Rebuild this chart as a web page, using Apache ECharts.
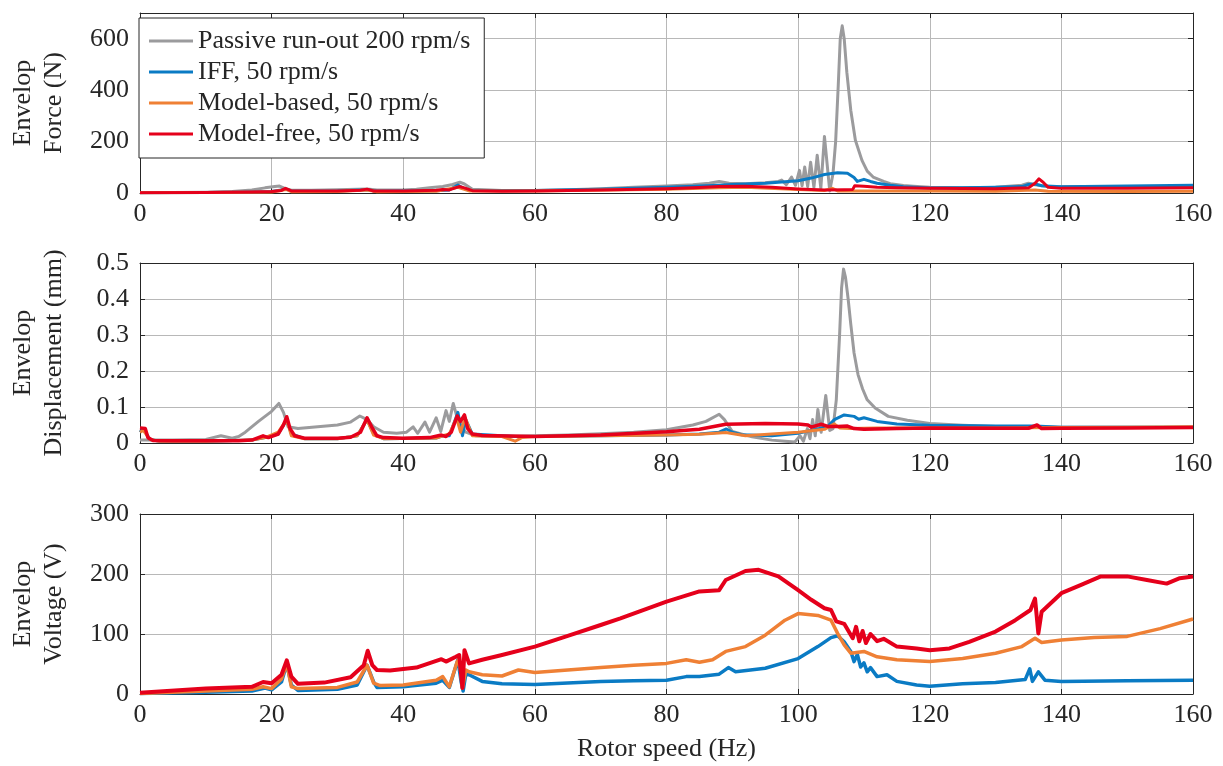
<!DOCTYPE html>
<html>
<head>
<meta charset="utf-8">
<script src="https://cdn.jsdelivr.net/npm/echarts@6/dist/echarts.min.js"></script>
<style>
html,body{margin:0;padding:0;background:#fff;}
#c{width:1223px;height:766px;}
</style>
</head>
<body>
<div id="c"></div>
<script>
// ---------- Data ----------
const seriesNames = ['Passive run-out 200 rpm/s', 'IFF, 50 rpm/s', 'Model-based, 50 rpm/s', 'Model-free, 50 rpm/s'];
const xTicks = [0, 20, 40, 60, 80, 100, 120, 140, 160];

// Envelop force (N) : [rotor speed Hz, value]
const forcePassive = [[0,1],[5,2],[10,3],[14,6],[17,12],[19,20],[20.5,25],[21.2,27],[22,18],[23,11],[26,11],[30,13],[33,15],[34.5,16],[36,12],[40,12],[42,15],[44,20],[46,25],[47.5,33],[48.6,42],[49.3,35],[50.5,15],[55,10],[60,10],[65,13],[70,17],[75,22],[80,27],[84,32],[86.5,38],[88,45],[89.5,38],[92,36],[95,40],[97,45],[97.5,50],[98.2,32],[99,62],[99.6,30],[100.2,88],[100.6,28],[101,101],[101.45,25],[101.9,120],[102.4,22],[102.9,147],[103.45,18],[104,220],[104.8,8],[105.3,75],[105.7,200],[106.1,420],[106.4,600],[106.7,650],[107.0,600],[107.4,470],[108,322],[108.7,205],[109.7,127],[110.5,85],[111.4,62],[113,45],[114,36],[116,29],[117.5,26],[120,22],[125,20],[130,22],[134,30],[135,38],[136,32],[138,25],[145,24],[150,24],[155,25],[160,25]];
const forceIFF = [[0,1],[10,2],[17,4],[20,6],[22.2,15],[23,7],[30,8],[34.5,13],[36,7],[45,9],[47,12],[48.3,31],[49,20],[50,10],[60,10],[70,15],[80,22],[85,27],[88,30],[90,33],[95,38],[100,48],[102,58],[104,72],[106,79],[107.5,77],[108.5,60],[109,45],[110,53],[111,45],[112,38],[114,30],[116,24],[120,19],[125,20],[130,22],[134,25],[135,33],[136,35],[137,28],[140,24],[150,27],[160,30]];
const forceModelBased = [[0,1],[10,2],[20,4],[22.2,14],[23,5],[30,6],[34.5,12],[36,5],[45,7],[48.3,22],[50,8],[60,8],[80,15],[88,20],[92,22],[100,14],[104,10],[105.2,18],[106,8],[110,8],[120,8],[130,7],[136,12],[138,7],[150,6],[160,7]];
const forceModelFree = [[0,1],[10,2],[17,4],[20,6],[21.5,10],[22.1,18],[23,8],[30,8],[33.5,11],[34.5,15],[35.5,8],[40,8],[45,11],[46,14],[47,12],[48.5,25],[49.3,20],[50.5,9],[55,7],[60,8],[70,12],[80,17],[85,21],[88,25],[92,26],[96,22],[100,16],[104,12],[107,13],[108.3,14],[108.6,28],[110,26],[112,22],[115,20],[120,18],[130,17],[135,20],[136,38],[136.6,55],[137.3,40],[138,22],[140,18],[150,18],[160,20]];

// Envelop displacement (mm)
const dispPassive = [[0,0.008],[5,0.008],[10,0.01],[12.3,0.02],[14,0.013],[15,0.018],[16,0.03],[18,0.06],[20,0.088],[21.1,0.11],[21.8,0.085],[22.5,0.045],[24,0.04],[27,0.045],[30,0.05],[32,0.058],[33.4,0.075],[34.5,0.065],[35.5,0.045],[37,0.03],[39,0.027],[40.5,0.03],[41.5,0.045],[42.2,0.027],[43.3,0.058],[44,0.03],[45,0.07],[45.7,0.032],[46.5,0.09],[47,0.06],[47.6,0.11],[48.2,0.07],[48.8,0.045],[49.5,0.03],[51,0.02],[55,0.018],[60,0.02],[65,0.022],[70,0.026],[75,0.03],[80,0.037],[84,0.05],[86,0.06],[88,0.08],[88.8,0.065],[90,0.032],[93,0.017],[96,0.008],[98,0.005],[99.5,0.003],[100.3,0.02],[100.8,0.005],[101.4,0.04],[101.8,0.012],[102.2,0.065],[102.6,0.02],[103.0,0.093],[103.5,0.03],[104.2,0.132],[104.8,0.035],[105.3,0.04],[105.8,0.12],[106.3,0.3],[106.6,0.43],[106.9,0.483],[107.2,0.46],[107.6,0.4],[108.0,0.33],[108.5,0.25],[109.1,0.19],[109.8,0.15],[110.5,0.12],[111.7,0.097],[113.7,0.074],[116.6,0.063],[120,0.054],[125,0.049],[130,0.046],[135,0.045],[140,0.044],[150,0.044],[160,0.044]];
const dispIFF = [[0,0.03],[0.5,0.04],[1.5,0.01],[3,0.005],[10,0.005],[17,0.008],[19,0.015],[21,0.025],[22.3,0.065],[23,0.025],[25,0.012],[30,0.012],[33,0.02],[34.5,0.065],[35.5,0.025],[37,0.012],[45,0.014],[46,0.02],[47,0.02],[48.3,0.085],[49,0.02],[49.5,0.065],[50.5,0.025],[55,0.02],[57,0.018],[60,0.018],[70,0.02],[80,0.022],[85,0.025],[88,0.03],[89.1,0.039],[90,0.03],[91.4,0.023],[96,0.02],[100,0.027],[102,0.035],[104.5,0.046],[105.5,0.065],[107,0.078],[108.5,0.074],[109.2,0.066],[110,0.07],[112,0.06],[115,0.053],[120,0.049],[130,0.047],[136,0.047],[140,0.044],[160,0.044]];
const dispModelBased = [[0,0.03],[0.5,0.035],[1.5,0.01],[3,0.005],[10,0.005],[17,0.008],[19,0.015],[21,0.03],[22.3,0.065],[23,0.02],[25,0.012],[30,0.012],[33,0.02],[34.5,0.065],[35.5,0.022],[37,0.012],[45,0.014],[46,0.02],[47,0.025],[48.1,0.07],[48.7,0.03],[49.4,0.07],[50.5,0.02],[55,0.018],[57,0.005],[58,0.015],[60,0.018],[70,0.02],[80,0.022],[85,0.024],[88,0.028],[89,0.029],[92,0.02],[96,0.025],[100,0.03],[104,0.038],[105.5,0.053],[106.3,0.042],[108,0.04],[112,0.042],[120,0.042],[130,0.042],[140,0.043],[150,0.044],[160,0.045]];
const dispModelFree = [[0,0.042],[0.3,0.045],[0.8,0.04],[1.2,0.015],[2,0.007],[5,0.006],[10,0.006],[15,0.006],[17,0.008],[18.7,0.02],[19.5,0.015],[21,0.025],[21.8,0.05],[22.3,0.073],[22.8,0.04],[23.5,0.02],[25,0.013],[30,0.013],[32,0.016],[33.5,0.03],[34.5,0.07],[35.2,0.045],[36,0.02],[37,0.015],[40,0.013],[44,0.015],[45.8,0.022],[46.5,0.018],[47.3,0.03],[48.2,0.075],[48.7,0.06],[49.3,0.078],[49.8,0.04],[50.5,0.025],[52,0.021],[60,0.018],[70,0.022],[80,0.031],[85,0.038],[89,0.052],[95,0.054],[100,0.053],[101.5,0.05],[102,0.044],[103.5,0.052],[104.5,0.046],[106,0.046],[107.5,0.047],[108.5,0.04],[110,0.038],[115,0.04],[120,0.042],[130,0.041],[135,0.041],[136.3,0.05],[137,0.04],[140,0.041],[150,0.042],[160,0.043]];

// Envelop voltage (V)
const voltIFF = [[0,1],[10,3],[17,5],[19,10],[20,7],[21.5,20],[22.3,50],[23,15],[24,6],[30,8],[33,15],[34.5,48],[35.5,20],[36,11],[40,12],[45,18],[46,23],[47,11],[48.3,57],[48.8,20],[49.1,5],[49.5,33],[50,32],[52,21],[55,17],[60,16],[70,21],[75,22],[80,23],[83,29],[85,29],[88,33],[89.4,44],[90.5,37],[95,43],[100,59],[103,79],[105,94],[106,97],[107,87],[108,71],[108.5,54],[109,66],[109.5,45],[110,52],[110.5,37],[111,44],[112,29],[113.5,32],[115,21],[118,15],[120,13],[125,17],[130,19],[134.5,24],[135.2,42],[135.6,21],[136.5,37],[137.5,23],[140,21],[150,22],[160,23]];
const voltModelBased = [[0,1],[10,5],[17,8],[18.7,12],[20,9],[21.5,25],[22.3,51],[23,12],[24,9],[30,11],[33,20],[34.5,48],[35.5,18],[36.5,14],[40,15],[45,23],[46,29],[47,12],[48.2,54],[48.5,59],[49,10],[49.5,40],[50,37],[52,32],[55,30],[57.5,40],[60,36],[65,40],[70,44],[75,48],[80,51],[83,57],[85,53],[87,57],[89,71],[92,79],[95,98],[98,123],[100,134],[103,131],[105,123],[106,101],[107,82],[108,68],[110,71],[112,62],[115,57],[120,54],[125,59],[130,68],[134,79],[136,93],[137,86],[140,90],[145,94],[150,96],[155,109],[160,125]];
const voltModelFree = [[0,2],[10,9],[17,12],[18.7,20],[20,18],[21.5,32],[22.3,56],[23,29],[24,17],[28,19],[32,28],[34,48],[34.6,72],[35.3,48],[36,40],[38,39],[42,44],[45.8,58],[46.5,54],[48,62],[48.5,65],[49,10],[49.3,73],[50,51],[52,57],[55,65],[60,79],[65,97],[70,115],[73,126],[80,154],[85,171],[88,173],[89,190],[92,205],[94,207],[97,196],[100,173],[102,157],[104,143],[105,140],[105.8,121],[107,117],[108.3,93],[108.8,112],[109.3,88],[109.8,105],[110.3,85],[111,100],[112,88],[113,92],[115,79],[118,76],[120,73],[123,76],[126,87],[130,104],[133,123],[135.3,140],[136,159],[136.5,101],[137,137],[140,168],[143,182],[146,196],[150,196],[153,190],[156,184],[158,193],[160,196]];

// ---------- Styling ----------
const FONT = "'Liberation Serif','Times New Roman',serif";
const TXT = '#262626';
const colors = ['#9b9b9d', '#0a7bc4', '#ef8035', '#e5001b'];
const grids = [
  {left:137, right:30, top:13, height:180},
  {left:137, right:30, top:263, height:180},
  {left:137, right:30, top:514, height:180}
];
const yNames = ['Envelop\nForce (N)', 'Envelop\nDisplacement (mm)', 'Envelop\nVoltage (V)'];
const yMax = [700, 0.5, 300];
const yInt = [200, 0.1, 100];

const axLine = {show:true, onZero:false, lineStyle:{color:TXT, width:1}};
const tick = {show:true, inside:true, length:5, lineStyle:{color:TXT}};
const split = {show:true, lineStyle:{color:'#b8b8b8', width:1}};

const xAxes = [], yAxes = [];
for (let i = 0; i < 3; i++) {
  xAxes.push({
    gridIndex:i, type:'value', min:0, max:160, interval:20,
    axisLine:axLine, axisTick:tick, splitLine:split,
    axisLabel:{color:TXT, fontFamily:FONT, fontSize:26, margin:8},
    name: i === 2 ? 'Rotor speed (Hz)' : '',
    nameLocation:'middle', nameGap:42,
    nameTextStyle:{color:TXT, fontFamily:FONT, fontSize:26}
  });
  yAxes.push({
    gridIndex:i, type:'value', min:0, max:yMax[i], interval:yInt[i],
    axisLine:axLine, axisTick:tick, splitLine:split,
    axisLabel:{color:TXT, fontFamily:FONT, fontSize:26, margin:11, showMaxLabel: i !== 0,
      formatter: v => (i === 1 ? (v === 0 ? '0' : v.toFixed(1)) : String(Math.round(v)))},
    name: yNames[i], nameLocation:'middle', nameRotate:90, nameGap:70,
    nameTextStyle:{color:TXT, fontFamily:FONT, fontSize:26, lineHeight:31}
  });
}
for (let i = 0; i < 3; i++) {
  xAxes.push({gridIndex:i, type:'value', position:'top', min:0, max:160, interval:20,
    axisLine:axLine, axisTick:tick, splitLine:{show:false}, axisLabel:{show:false}});
  yAxes.push({gridIndex:i, type:'value', position:'right', min:0, max:yMax[i], interval:yInt[i],
    axisLine:axLine, axisTick:tick, splitLine:{show:false}, axisLabel:{show:false}});
}

function mk(name, idx, data, color, w) {
  return {name:name, type:'line', xAxisIndex:idx, yAxisIndex:idx, data:data,
    showSymbol:false, symbol:'none', lineStyle:{color:color, width:w, join:'round'}, itemStyle:{color:color},
    animation:false, silent:true, z:2};
}

const series = [
  mk(seriesNames[0], 0, forcePassive, colors[0], 3),
  mk(seriesNames[1], 0, forceIFF, colors[1], 3),
  mk(seriesNames[2], 0, forceModelBased, colors[2], 3),
  mk(seriesNames[3], 0, forceModelFree, colors[3], 3),
  mk(seriesNames[0], 1, dispPassive, colors[0], 3),
  mk(seriesNames[1], 1, dispIFF, colors[1], 3),
  mk(seriesNames[2], 1, dispModelBased, colors[2], 3),
  mk(seriesNames[3], 1, dispModelFree, colors[3], 3.5),
  mk(seriesNames[1], 2, voltIFF, colors[1], 3.5),
  mk(seriesNames[2], 2, voltModelBased, colors[2], 3.5),
  mk(seriesNames[3], 2, voltModelFree, colors[3], 4)
];

const chart = echarts.init(document.getElementById('c'), null, {renderer:'canvas'});
chart.setOption({
  backgroundColor:'#ffffff',
  animation:false,
  grid:grids,
  xAxis:xAxes,
  yAxis:yAxes,
  legend:{
    data:seriesNames, orient:'vertical', left:139, top:18,
    padding:[9,14,10,10], itemGap:3, itemWidth:44, itemHeight:3, icon:'rect',
    borderColor:TXT, borderWidth:1, backgroundColor:'#ffffff',
    textStyle:{color:TXT, fontFamily:FONT, fontSize:26, lineHeight:28},
    selectedMode:false, z:10
  },
  series:series
});
</script>
</body>
</html>
